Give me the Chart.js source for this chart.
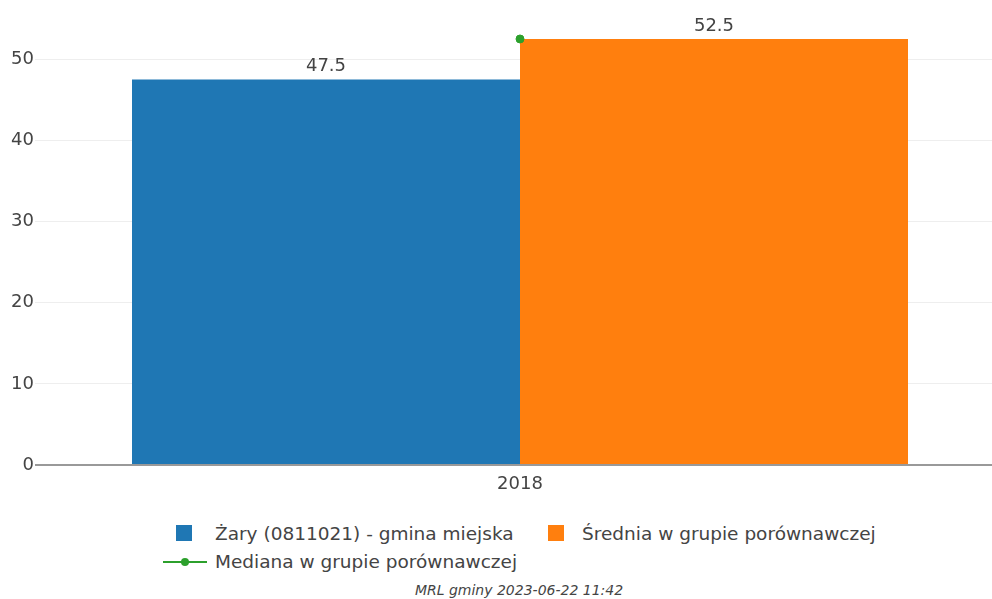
<!DOCTYPE html>
<html>
<head>
<meta charset="utf-8">
<script src="https://cdn.jsdelivr.net/npm/chart.js@4"></script>
<style>
  html, body { margin: 0; padding: 0; background: #fff; overflow: hidden; }
  body { width: 992px; height: 599px; position: relative; font-family: "DejaVu Sans", sans-serif; color: #444; }
  #wrap { position: absolute; left: 0; top: 0; width: 1010px; height: 500px; }
  .leg { position: absolute; font-size: 18.5px; white-space: nowrap; line-height: 22px; }
  .sq { position: absolute; width: 16px; height: 16px; }
  #footer { position: absolute; top: 582px; left: 0; width: 1038px; text-align: center; font-size: 14px; font-style: italic; }
</style>
</head>
<body>
<div id="wrap"><canvas id="chart" width="1010" height="500"></canvas></div>

<div class="sq" style="left:176px;top:525px;background:#1f77b4"></div>
<div class="leg" style="left:215px;top:523px">Żary (0811021) - gmina miejska</div>
<div class="sq" style="left:548px;top:525px;background:#ff7f0e"></div>
<div class="leg" style="left:582px;top:523px">Średnia w grupie porównawczej</div>
<div style="position:absolute;left:163px;top:561px;width:44px;height:2px;background:#2ca02c"></div>
<div style="position:absolute;left:181px;top:558px;width:8px;height:8px;border-radius:50%;background:#2ca02c"></div>
<div class="leg" style="left:215px;top:551px">Mediana w grupie porównawczej</div>

<div id="footer">MRL gminy 2023-06-22 11:42</div>

<script>
  const categories = ["2018"];
  const garyValues = [47.5];
  const sredniaValues = [52.5];
  const medianaValues = [52.5];
  const yTicks = [0, 10, 20, 30, 40, 50];

  const barLabels = {
    id: "barLabels",
    afterDatasetsDraw(chart){
      const ctx = chart.ctx;
      ctx.save();
      ctx.font = "18px 'DejaVu Sans'";
      ctx.fillStyle = "#444";
      ctx.textAlign = "center";
      ctx.textBaseline = "bottom";
      [1, 2].forEach(i => {
        const meta = chart.getDatasetMeta(i);
        meta.data.forEach((bar, j) => {
          const v = chart.data.datasets[i].data[j];
          ctx.fillText(v.toFixed(1), bar.x, bar.y - 4);
        });
      });
      ctx.restore();
    }
  };

  new Chart(document.getElementById("chart"), {
    data: {
      labels: categories,
      datasets: [
        { type: "line", label: "Mediana w grupie porównawczej", data: medianaValues,
          borderColor: "#2ca02c", backgroundColor: "#2ca02c", pointRadius: 4, pointHoverRadius: 4, order: 0 },
        { type: "bar", label: "Żary (0811021) - gmina miejska", data: garyValues,
          backgroundColor: "#1f77b4", barPercentage: 1, categoryPercentage: 0.8, order: 1 },
        { type: "bar", label: "Średnia w grupie porównawczej", data: sredniaValues,
          backgroundColor: "#ff7f0e", barPercentage: 1, categoryPercentage: 0.8, order: 1 }
      ]
    },
    options: {
      responsive: false,
      animation: false,
      layout: { padding: { top: 10, right: 0, left: 0, bottom: 0 } },
      plugins: { legend: { display: false }, tooltip: { enabled: false } },
      scales: {
        x: {
          grid: { display: false },
          border: { display: false },
          ticks: { color: "#444", font: { family: "DejaVu Sans", size: 18 }, padding: 1 },
          afterFit(axis){ axis.height = 35; }
        },
        y: {
          min: 0, max: 55.85,
          border: { display: false },
          grid: {
            color: ctx => ctx.tick && ctx.tick.value === 0 ? "#999" : "#eee",
            lineWidth: ctx => ctx.tick && ctx.tick.value === 0 ? 2 : 1,
            drawTicks: false
          },
          ticks: { stepSize: 10, color: "#444", font: { family: "DejaVu Sans", size: 18 }, padding: 1 },
          afterBuildTicks(axis){ axis.ticks = yTicks.map(v => ({ value: v })); },
          afterFit(axis){ axis.width = 35; }
        }
      }
    },
    plugins: [barLabels]
  });
</script>
</body>
</html>
